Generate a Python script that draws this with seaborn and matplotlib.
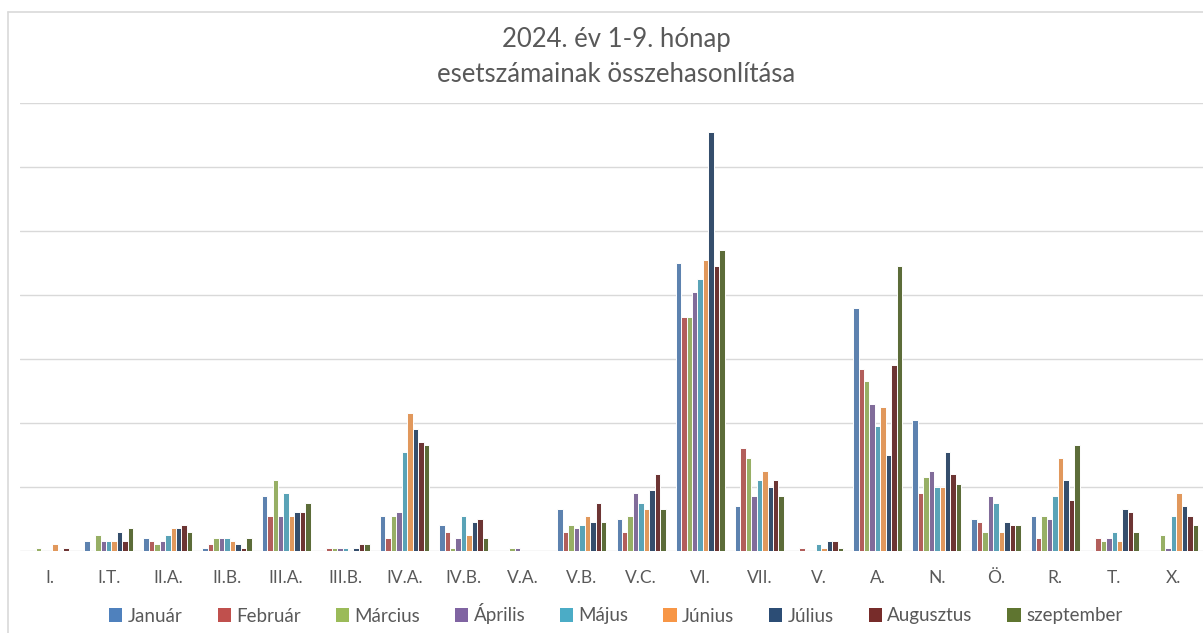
import matplotlib
matplotlib.use("Agg")
import matplotlib.pyplot as plt
from matplotlib.patches import Patch
from matplotlib.lines import Line2D
import seaborn as sns
import pandas as pd

# categories (x axis)
categories = ["I.", "I.T.", "II.A.", "II.B.", "III.A.", "III.B.", "IV.A.", "IV.B.", "V.A.", "V.B.",
              "V.C.", "VI.", "VII.", "V.", "A.", "N.", "Ö.", "R.", "T.", "X."]

# monthly case counts
januar     = [0, 3, 4, 1, 17, 0, 11, 8, 0, 13, 10, 90, 14, 0, 76, 41, 10, 11, 0, 0]
februar    = [0, 0, 3, 2, 11, 1, 4, 6, 0, 6, 6, 73, 32, 1, 57, 18, 9, 4, 4, 0]
marcius    = [1, 5, 2, 4, 22, 1, 11, 1, 1, 8, 11, 73, 29, 0, 53, 23, 6, 11, 3, 5]
aprilis    = [0, 3, 3, 4, 11, 1, 12, 4, 1, 7, 18, 81, 17, 0, 46, 25, 17, 10, 4, 1]
majus      = [0, 3, 5, 4, 18, 1, 31, 11, 0, 8, 15, 85, 22, 2, 39, 20, 15, 17, 6, 11]
junius     = [2, 3, 7, 3, 11, 0, 43, 5, 0, 11, 13, 91, 25, 1, 45, 20, 6, 29, 3, 18]
julius     = [0, 6, 7, 2, 12, 1, 38, 9, 0, 9, 19, 131, 20, 3, 30, 31, 9, 22, 13, 14]
augusztus  = [1, 3, 8, 1, 12, 2, 34, 10, 0, 15, 24, 89, 22, 3, 58, 24, 8, 16, 12, 11]
szeptember = [0, 7, 6, 4, 15, 2, 33, 4, 0, 9, 13, 94, 17, 1, 89, 21, 8, 33, 6, 8]

months = ["Január", "Február", "Március", "Április", "Május", "Június", "Július", "Augusztus", "szeptember"]
series = [januar, februar, marcius, aprilis, majus, junius, julius, augusztus, szeptember]
colors = ["#4F81BD", "#C0504D", "#9BBB59", "#8064A2", "#4BACC6", "#F79646", "#2C4D75", "#772C2A", "#5F7530"]

rows = []
for m, vals in zip(months, series):
    for c, v in zip(categories, vals):
        rows.append({"cat": c, "month": m, "value": v})
df = pd.DataFrame(rows)
df = df[df["value"] > 0]

sns.set_theme(style="white")
plt.rcParams["font.family"] = ["Lato", "DejaVu Sans"]

fig = plt.figure(figsize=(12.03, 6.33), dpi=100)
ax = fig.add_axes([0.0166, 0.130, 0.9834, 0.7068])

sns.barplot(data=df, x="cat", y="value", hue="month", order=categories, hue_order=months,
            palette=colors, width=0.83, edgecolor="white", linewidth=0.7,
            errorbar=None, legend=False, ax=ax)

ax.set_ylim(0, 140)
ax.set_xlim(-0.5, len(categories) - 0.5)
ax.set_yticks(range(0, 141, 20))
ax.yaxis.grid(True, color="#d9d9d9", linewidth=1.0)
ax.set_axisbelow(True)
ax.set_yticklabels([])
ax.tick_params(axis="y", length=0)
ax.tick_params(axis="x", length=0, pad=14, labelsize=12.5, labelcolor="#595959")
for s in ax.spines.values():
    s.set_visible(False)
ax.set_xlabel("")
ax.set_ylabel("")

fig.text(0.512, 1 - 40 / 633, "2024. év 1-9. hónap", ha="center", va="center",
         fontsize=18.5, color="#595959")
fig.text(0.512, 1 - 74 / 633, "esetszámainak összehasonlítása", ha="center", va="center",
         fontsize=18.5, color="#595959")

handles = [Patch(facecolor=c, edgecolor="none") for c in colors]
fig.legend(handles, months, loc="center", bbox_to_anchor=(0.512, 1 - 614 / 633), ncol=9,
           frameon=False, fontsize=13.5, labelcolor="#595959", handlelength=0.7, handleheight=0.7,
           handletextpad=0.3, columnspacing=1.85)

# chart border (left and top visible)
fig.add_artist(Line2D([7.5 / 1203, 7.5 / 1203], [0, 1 - 11.5 / 633], color="#d9d9d9", linewidth=1.2))
fig.add_artist(Line2D([7.5 / 1203, 1], [1 - 11.5 / 633, 1 - 11.5 / 633], color="#d9d9d9", linewidth=1.2))

fig.savefig("out.png", dpi=100, facecolor="white")
